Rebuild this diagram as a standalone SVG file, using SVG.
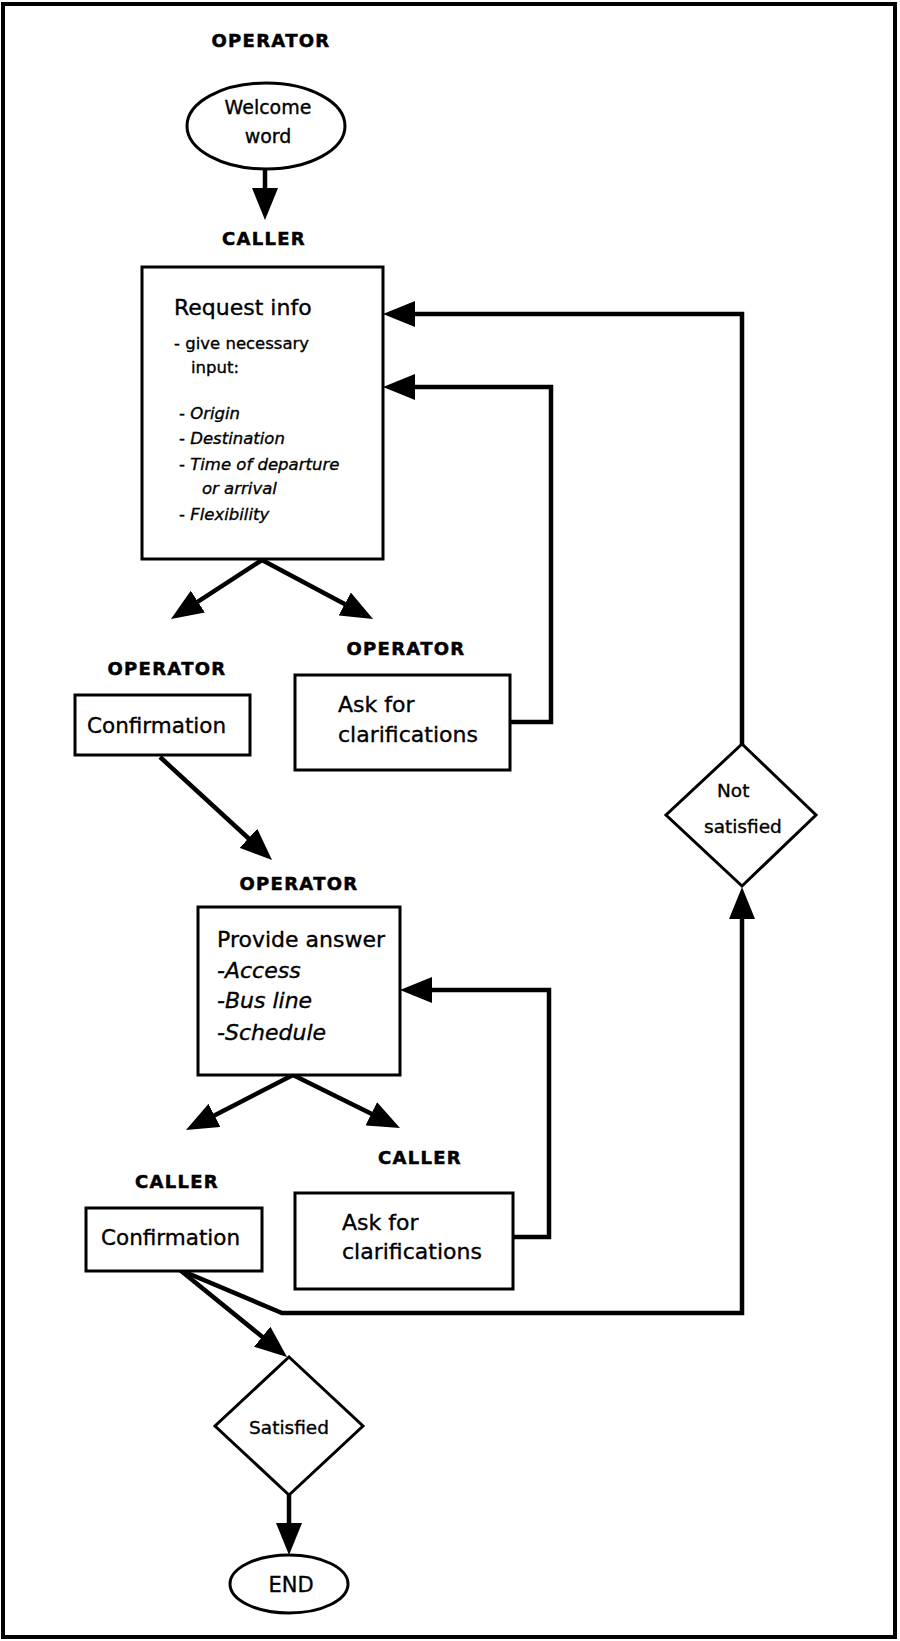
<svg xmlns="http://www.w3.org/2000/svg" width="900" height="1641" viewBox="0 0 900 1641">
<style>
.frame{fill:none;stroke:#000;stroke-width:4}
.box{fill:#fff;stroke:#000;stroke-width:3}
.conn{fill:none;stroke:#000;stroke-width:4.5;stroke-linejoin:miter}
.lbl{font-family:"DejaVu Sans",sans-serif;font-weight:bold;font-size:18px;letter-spacing:1.3px;text-anchor:middle;fill:#000;stroke:#000;stroke-width:0.5}
.t{font-family:"DejaVu Sans",sans-serif;fill:#000;stroke:#000;stroke-width:0.35}
.it{font-style:italic}
</style>
<defs>
<marker id="ah" markerUnits="userSpaceOnUse" markerWidth="32" markerHeight="26" refX="4" refY="13" orient="auto">
<path d="M0,0 L32,13 L0,26 z" fill="#000"/>
</marker>
</defs>
<rect class="frame" x="3" y="4" width="892" height="1633"/>
<g id="connectors">
<line class="conn" x1="265" y1="169" x2="265" y2="192" marker-end="url(#ah)"/>
<line class="conn" x1="262" y1="560" x2="194.5" y2="603.8" marker-end="url(#ah)"/>
<line class="conn" x1="262" y1="560" x2="348.3" y2="605.9" marker-end="url(#ah)"/>
<line class="conn" x1="160" y1="757" x2="251.4" y2="841" marker-end="url(#ah)"/>
<line class="conn" x1="293" y1="1075" x2="210.9" y2="1117.2" marker-end="url(#ah)"/>
<line class="conn" x1="293" y1="1075" x2="374.9" y2="1115.6" marker-end="url(#ah)"/>
<line class="conn" x1="180" y1="1270" x2="265.3" y2="1339.3" marker-end="url(#ah)"/>
<polyline class="conn" points="180,1270 282,1313 742,1313 742,915" marker-end="url(#ah)"/>
<polyline class="conn" points="742,745 742,314 411,314" marker-end="url(#ah)"/>
<polyline class="conn" points="510,722 551,722 551,387 411,387" marker-end="url(#ah)"/>
<polyline class="conn" points="513,1237 549,1237 549,990 428,990" marker-end="url(#ah)"/>
<line class="conn" x1="289" y1="1495" x2="289" y2="1527" marker-end="url(#ah)"/>
</g>
<g id="lbl-operator-1"><text class="lbl" x="271" y="47">OPERATOR</text></g>
<g id="welcome">
<ellipse class="box" cx="266" cy="126" rx="79" ry="43"/>
<text class="t" font-size="19" text-anchor="middle" x="268" y="114">Welcome</text>
<text class="t" font-size="19" text-anchor="middle" x="268" y="143">word</text>
</g>
<g id="lbl-caller-1"><text class="lbl" x="264" y="245">CALLER</text></g>
<g id="request-info">
<rect class="box" x="142" y="267" width="241" height="292"/>
<text class="t" font-size="22" x="174" y="315">Request info</text>
<text class="t" font-size="16.5" x="174" y="349">- give necessary</text>
<text class="t" font-size="16.5" x="191" y="373">input:</text>
<text class="t" font-size="16.5" x="179" y="419">- <tspan class="it">Origin</tspan></text>
<text class="t" font-size="16.5" x="179" y="444">- <tspan class="it">Destination</tspan></text>
<text class="t" font-size="16.5" x="179" y="470">- <tspan class="it">Time of departure</tspan></text>
<text class="t it" font-size="16.5" x="202" y="494">or arrival</text>
<text class="t" font-size="16.5" x="179" y="520">- <tspan class="it">Flexibility</tspan></text>
</g>
<g id="lbl-operator-2"><text class="lbl" x="167" y="675">OPERATOR</text></g>
<g id="confirmation-op">
<rect class="box" x="75" y="695" width="175" height="60"/>
<text class="t" font-size="21.5" x="87" y="733">Confirmation</text>
</g>
<g id="lbl-operator-3"><text class="lbl" x="406" y="655">OPERATOR</text></g>
<g id="ask-op">
<rect class="box" x="295" y="675" width="215" height="95"/>
<text class="t" font-size="22" x="338" y="712">Ask for</text>
<text class="t" font-size="22" x="338" y="742">clarifications</text>
</g>
<g id="lbl-operator-4"><text class="lbl" x="299" y="890">OPERATOR</text></g>
<g id="provide-answer">
<rect class="box" x="198" y="907" width="202" height="168"/>
<text class="t" font-size="22" x="217" y="947">Provide answer</text>
<text class="t it" font-size="22" x="217" y="978">-Access</text>
<text class="t it" font-size="22" x="217" y="1008">-Bus line</text>
<text class="t it" font-size="22" x="217" y="1040">-Schedule</text>
</g>
<g id="lbl-caller-2"><text class="lbl" x="177" y="1188">CALLER</text></g>
<g id="confirmation-caller">
<rect class="box" x="86" y="1208" width="176" height="63"/>
<text class="t" font-size="21.5" x="101" y="1245">Confirmation</text>
</g>
<g id="lbl-caller-3"><text class="lbl" x="420" y="1164">CALLER</text></g>
<g id="ask-caller">
<rect class="box" x="295" y="1193" width="218" height="96"/>
<text class="t" font-size="22" x="342" y="1230">Ask for</text>
<text class="t" font-size="22" x="342" y="1259">clarifications</text>
</g>
<g id="not-satisfied">
<polygon class="box" points="742,744 816,815 742,886 666,815"/>
<text class="t" font-size="18.5" x="717" y="797">Not</text>
<text class="t" font-size="18.5" x="704" y="833">satisfied</text>
</g>
<g id="satisfied">
<polygon class="box" points="289,1357 363,1426 289,1495 215,1426"/>
<text class="t" font-size="18.5" text-anchor="middle" x="289" y="1434">Satisfied</text>
</g>
<g id="end">
<ellipse class="box" cx="289" cy="1584" rx="59" ry="29"/>
<text class="t" font-size="21" text-anchor="middle" x="291" y="1592">END</text>
</g>
</svg>
